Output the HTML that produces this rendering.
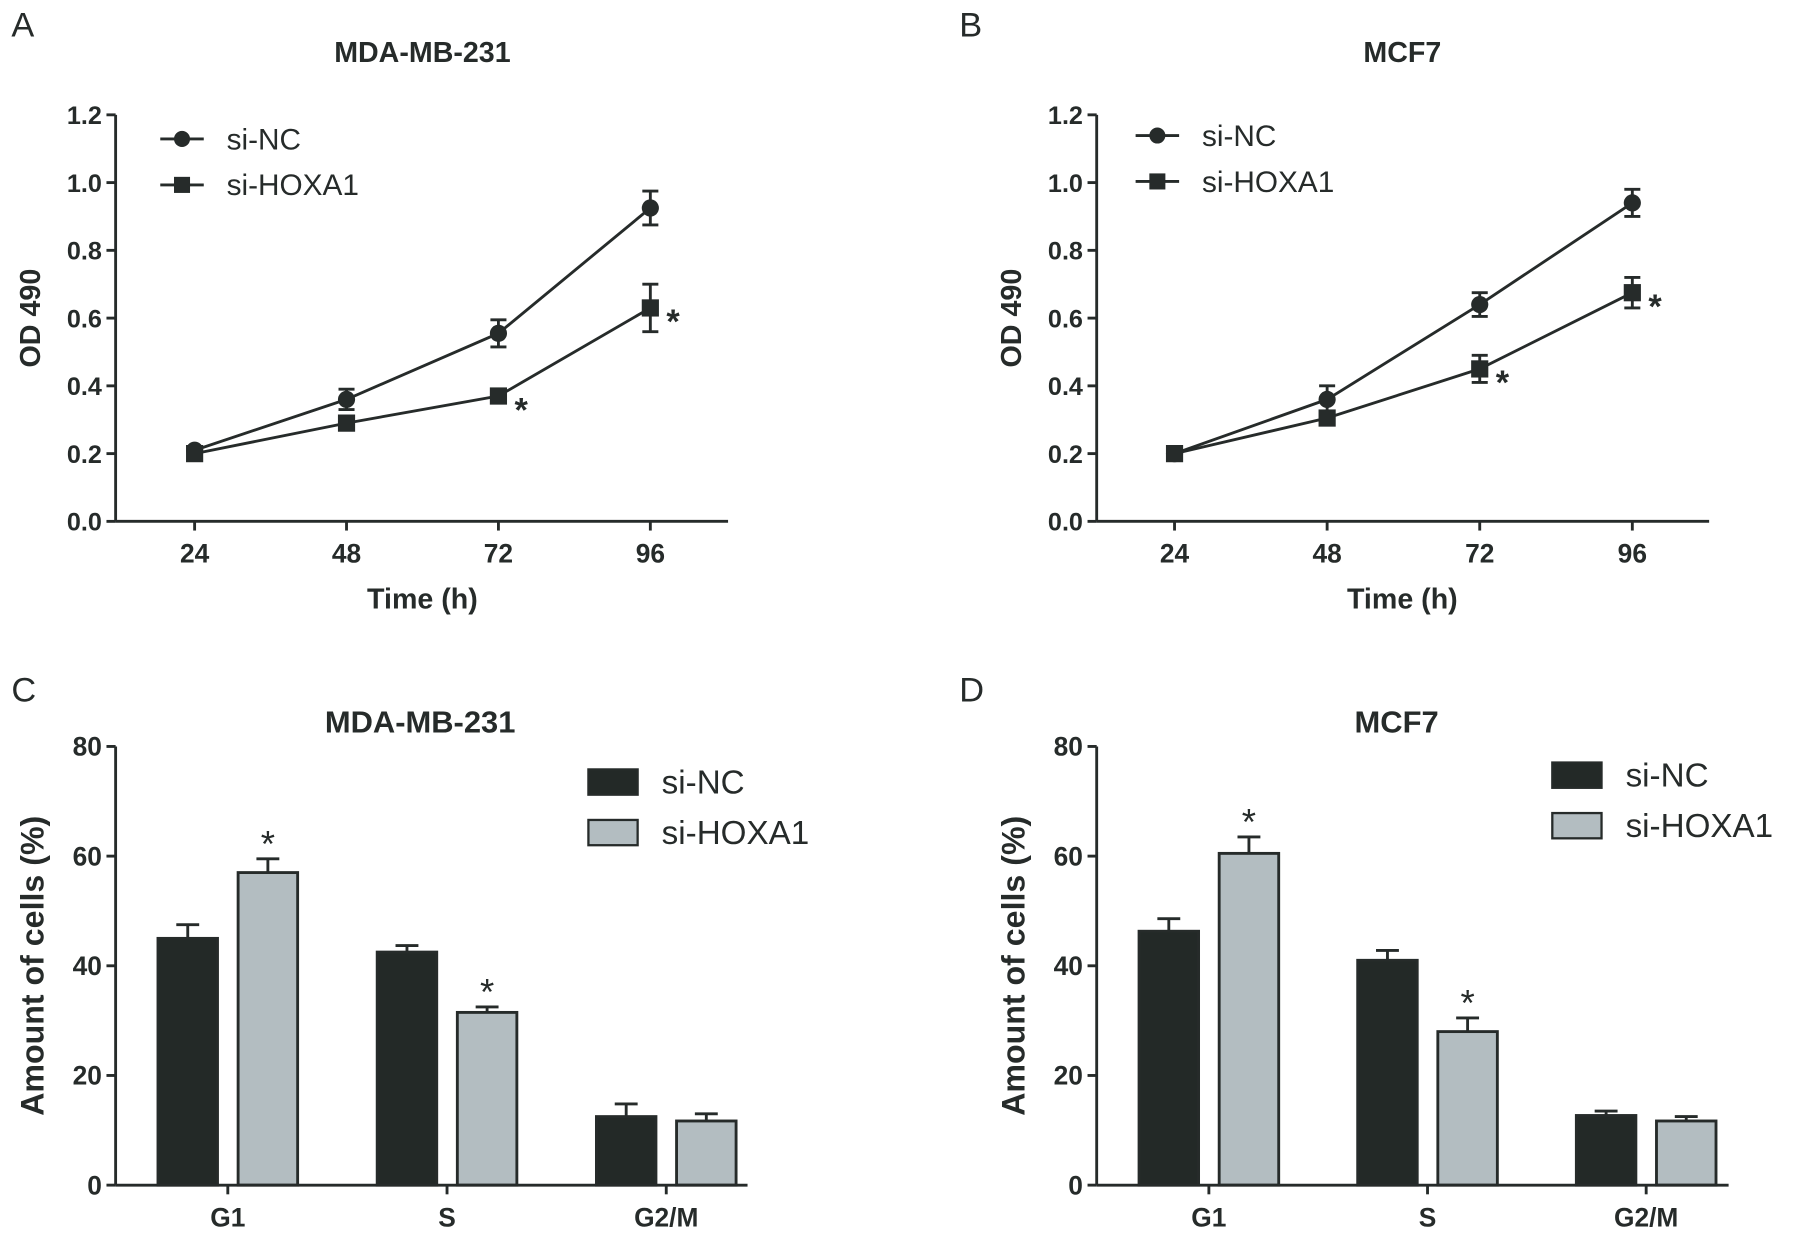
<!DOCTYPE html>
<html><head><meta charset="utf-8"><style>
html,body{margin:0;padding:0;background:#fff;}
svg{display:block;font-family:"Liberation Sans",Arial,sans-serif;}
</style></head><body>
<svg id="fig" width="1795" height="1246" viewBox="0 0 1568 1085" preserveAspectRatio="none" xmlns="http://www.w3.org/2000/svg"></svg>
<script>
const timeCats=[24,48,72,96];
const aNC=[0.21,0.36,0.555,0.925], aNCerr=[0.01,0.03,0.04,0.05];
const aHX=[0.20,0.29,0.37,0.63], aHXerr=[0.01,0.02,0.01,0.07];
const bNC=[0.20,0.36,0.64,0.94], bNCerr=[0.01,0.04,0.035,0.04];
const bHX=[0.20,0.305,0.45,0.675], bHXerr=[0.01,0.015,0.04,0.045];
const odTicks=["0.0","0.2","0.4","0.6","0.8","1.0","1.2"];
const phaseCats=["G1","S","G2/M"];
const cNC=[45,42.5,12.5], cNCerr=[2.5,1.2,2.3];
const cHX=[57,31.5,11.7], cHXerr=[2.5,1,1.3];
const dNC=[46.3,41,12.7], dNCerr=[2.3,1.8,0.8];
const dHX=[60.5,28,11.7], dHXerr=[3,2.5,0.8];
const pctTicks=["0","20","40","60","80"];
const aStars=[72,96], bStars=[72,96];
const cStars=["G1","S"], dStars=["G1","S"];

const NS="http://www.w3.org/2000/svg", svg=document.getElementById('fig');
const C="#262b2a";
function el(tag,attrs,parent){const e=document.createElementNS(NS,tag);for(const k in attrs)e.setAttribute(k,attrs[k]);(parent||svg).appendChild(e);return e;}
function txt(s,attrs,parent){const e=el('text',attrs,parent);e.textContent=s;return e;}

function linePanel(o){
  const g=el('g',{});
  
  
  const y=v=>o.y0-(v/1.2)*(o.y0-o.y1);
  const x=t=>o.x24+(t-24)/24*o.dx;
  const l=txt(o.letter,{x:o.letX,y:32,'font-size':30,fill:C,'font-weight':'300'},g);
  
  const t=txt(o.title,{x:o.tx,y:54,'font-size':25,'font-weight':'bold','text-anchor':'middle',fill:C},g);
  
  el('line',{x1:o.ax,y1:o.y1,x2:o.ax,y2:o.y0,stroke:C,'stroke-width':2.5},g);
  el('line',{x1:o.ax,y1:o.y0,x2:o.xe,y2:o.y0,stroke:C,'stroke-width':2.5},g);
  odTicks.forEach(s=>{const v=parseFloat(s),yy=y(v);
    el('line',{x1:o.ax-8,y1:yy,x2:o.ax,y2:yy,stroke:C,'stroke-width':2.5},g);
    const tl=txt(s,{x:o.ax-12,y:yy+8,'font-size':22,'font-weight':'bold','text-anchor':'end',fill:C},g);
    });
  timeCats.forEach(tc=>{const xx=x(tc);
    el('line',{x1:xx,y1:o.y0,x2:xx,y2:o.y0+8,stroke:C,'stroke-width':2.5},g);
    const tl=txt(String(tc),{x:xx,y:o.y0+36,'font-size':23,'font-weight':'bold','text-anchor':'middle',fill:C},g);
    });
  const xt=txt('Time (h)',{x:o.tx,y:o.y0+76,'font-size':25,'font-weight':'bold','text-anchor':'middle',fill:C},g);
  
  const yt=txt('OD 490',{x:0,y:0,'font-size':25,'font-weight':'bold','text-anchor':'middle',fill:C,transform:`translate(${o.ax-66},${(o.y0+o.y1)/2}) rotate(-90)`},g);
  
  [[o.nc,o.ncErr,'circle','si-nc-series'],[o.hx,o.hxErr,'square','si-hoxa1-series']].forEach(([vals,errs,shape,nm])=>{
    const sg=el('g',{},g);
    
    el('polyline',{points:timeCats.map((tc,i)=>x(tc)+','+y(vals[i])).join(' '),fill:'none',stroke:C,'stroke-width':2.5},sg);
    timeCats.forEach((tc,i)=>{const xx=x(tc),yy=y(vals[i]),e1=y(vals[i]+errs[i]),e2=y(vals[i]-errs[i]);
      el('line',{x1:xx,y1:e1,x2:xx,y2:e2,stroke:C,'stroke-width':2.5},sg);
      el('line',{x1:xx-7,y1:e1,x2:xx+7,y2:e1,stroke:C,'stroke-width':2.5},sg);
      el('line',{x1:xx-7,y1:e2,x2:xx+7,y2:e2,stroke:C,'stroke-width':2.5},sg);
      if(shape==='circle'){const m=el('circle',{cx:xx,cy:yy,r:7.5,fill:C},sg);}
      else{const m=el('rect',{x:xx-7.5,y:yy-7.5,width:15,height:15,fill:C},sg);}
    });
  });
  o.stars.forEach(tc=>{const i=timeCats.indexOf(tc);const s=txt('*',{x:x(tc)+14,y:y(o.hx[i])+22,'font-size':30,'font-weight':'bold',fill:C},g);
    });
  [['si-NC','circle',o.ly],['si-HOXA1','square',o.ly+40]].forEach(([lab,sh,ly])=>{
    const lg=el('g',{},g);
    el('line',{x1:o.lx,y1:ly,x2:o.lx+38,y2:ly,stroke:C,'stroke-width':2.5},lg);
    if(sh==='circle')el('circle',{cx:o.lx+19,cy:ly,r:7,fill:C},lg);else el('rect',{x:o.lx+12,y:ly-7,width:14,height:14,fill:C},lg);
    txt(lab,{x:o.lx+58,y:ly+9,'font-size':26,fill:C},lg);
  });
}
linePanel({name:'panel-a-line-chart',letter:'A',letX:10,title:'MDA-MB-231',tx:369,ax:101,xe:636,y0:454,y1:100,x24:170,dx:132.7,nc:aNC,ncErr:aNCerr,hx:aHX,hxErr:aHXerr,stars:aStars,lx:140,ly:121});
linePanel({name:'panel-b-line-chart',letter:'B',letX:838,title:'MCF7',tx:1225,ax:958,xe:1493,y0:454,y1:100,x24:1026,dx:133.3,nc:bNC,ncErr:bNCerr,hx:bHX,hxErr:bHXerr,stars:bStars,lx:992,ly:118});

function barPanel(o){
  const g=el('g',{});
  
  const y=v=>o.y0-(v/80)*(o.y0-o.y1);
  const l=txt(o.letter,{x:o.letX,y:611,'font-size':30,fill:C,'font-weight':'300'},g);
  
  const t=txt(o.title,{x:o.tx,y:638,'font-size':27,'font-weight':'bold','text-anchor':'middle',fill:C},g);
  
  pctTicks.forEach(s=>{const yy=y(parseFloat(s));
    el('line',{x1:o.ax-8,y1:yy,x2:o.ax,y2:yy,stroke:C,'stroke-width':2.5},g);
    const tl=txt(s,{x:o.ax-12,y:yy+8,'font-size':23,'font-weight':'bold','text-anchor':'end',fill:C},g);
    });
  const yt=txt('Amount of cells (%)',{x:0,y:0,'font-size':28,'font-weight':'bold','text-anchor':'middle',fill:C,transform:`translate(${o.ax-63},${(o.y0+o.y1)/2}) rotate(-90)`},g);
  
  phaseCats.forEach((pc,i)=>{const cx=o.c0+i*o.step;
    [[o.nc,o.ncErr,'#232927',-35,'bar-si-nc-'],[o.hx,o.hxErr,'#b3bdc1',35,'bar-si-hoxa1-']].forEach(([vals,errs,fill,off,nm])=>{
      const bx=cx+off-26,top=y(vals[i]),et=y(vals[i]+errs[i]);
      el('line',{x1:cx+off,y1:et,x2:cx+off,y2:top,stroke:C,'stroke-width':2.5},g);
      el('line',{x1:cx+off-10,y1:et,x2:cx+off+10,y2:et,stroke:C,'stroke-width':2.5},g);
      const r=el('rect',{x:bx,y:top,width:52,height:o.y0-top,fill:fill,stroke:C,'stroke-width':2.5},g);
      
    });
    el('line',{x1:cx,y1:o.y0,x2:cx,y2:o.y0+8,stroke:C,'stroke-width':2.5},g);
    const tl=txt(pc,{x:cx,y:o.y0+36,'font-size':23,'font-weight':'bold','text-anchor':'middle',fill:C},g);
    
    if(o.stars.includes(pc)){const s=txt('*',{x:cx+35,y:y(o.hx[i]+o.hxErr[i])-2,'font-size':32,'text-anchor':'middle',fill:C},g);
      }
  });
  el('line',{x1:o.ax,y1:o.y1,x2:o.ax,y2:o.y0,stroke:C,'stroke-width':2.5},g);
  el('line',{x1:o.ax,y1:o.y0,x2:o.xe,y2:o.y0,stroke:C,'stroke-width':2.5},g);
  [['si-NC','#232927',o.ly],['si-HOXA1','#b3bdc1',o.ly+44]].forEach(([lab,f,ly])=>{
    const lg=el('g',{},g);
    el('rect',{x:o.lx,y:ly-11,width:43,height:22,fill:f,stroke:C,'stroke-width':2},lg);
    txt(lab,{x:o.lx+64,y:ly+10,'font-size':29,fill:C},lg);
  });
}
barPanel({name:'panel-c-bar-chart',letter:'C',letX:10,title:'MDA-MB-231',tx:367,ax:101,xe:653,y0:1032,y1:650,c0:199,step:191.5,nc:cNC,ncErr:cNCerr,hx:cHX,hxErr:cHXerr,stars:cStars,lx:514,ly:681});
barPanel({name:'panel-d-bar-chart',letter:'D',letX:838,title:'MCF7',tx:1220,ax:958,xe:1510,y0:1032,y1:650,c0:1056,step:191,nc:dNC,ncErr:dNCerr,hx:dHX,hxErr:dHXerr,stars:dStars,lx:1356,ly:675});
</script>
</body></html>
